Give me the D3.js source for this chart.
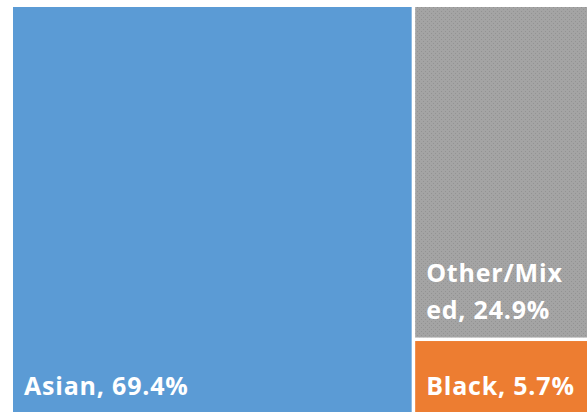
<!DOCTYPE html>
<html>
<head>
<meta charset="utf-8">
<script src="https://cdn.jsdelivr.net/npm/d3@7"></script>
<style>
  html, body { margin: 0; padding: 0; background: #ffffff; }
  svg { display: block; }
</style>
</head>
<body>
<div id="chart"></div>
<script>
const categories = ["Asian", "Other/Mixed", "Black"];
const values = [69.4, 24.9, 5.7];
const colors = ["#5b9bd5", "url(#grayPattern)", "#ed7d31"];

const W = 587, H = 412;
const svg = d3.select("#chart").append("svg")
  .attr("width", W).attr("height", H);

const defs = svg.append("defs");
const pat = defs.append("pattern")
  .attr("id", "grayPattern")
  .attr("patternUnits", "userSpaceOnUse")
  .attr("width", 4).attr("height", 4);
pat.append("rect").attr("width", 4).attr("height", 4).attr("fill", "#a4a4a4");
pat.append("rect").attr("x", 0).attr("y", 0).attr("width", 1).attr("height", 1).attr("fill", "#939393");
pat.append("rect").attr("x", 2).attr("y", 2).attr("width", 1).attr("height", 1).attr("fill", "#939393");

const root = d3.hierarchy({
  children: categories.map((c, i) => ({ name: c, value: values[i], color: colors[i] }))
}).sum(d => d.value || 0);

const ox = 13, oy = 7;
d3.treemap()
  .tile(d3.treemapSquarify)
  .size([576, 407])
  .paddingInner(3.5)
  .round(false)(root);

const plot = svg.append("g").attr("transform", `translate(${ox},${oy})`);

const cells = plot.selectAll("g.cell")
  .data(root.leaves())
  .join("g").attr("class", "cell");

cells.append("rect")
  .attr("x", d => d.x0)
  .attr("y", d => d.y0)
  .attr("width", d => d.x1 - d.x0)
  .attr("height", d => d.y1 - d.y0)
  .attr("fill", d => d.data.color);

const fontSize = 25, lineH = 37, padX = 11, padB = 19;

cells.each(function(d) {
  const g = d3.select(this);
  const label = d.data.name + ", " + d3.format(".1f")(d.data.value) + "%";
  const maxW = (d.x1 - d.x0) - 2 * padX;
  const t = g.append("text")
    .attr("font-family", "'Open Sans', sans-serif")
    .attr("font-weight", "bold")
    .attr("font-size", fontSize)
    .attr("letter-spacing", 0.8)
    .attr("fill", "#ffffff");
  const lines = [];
  let cur = "";
  const probe = t.append("tspan");
  for (const ch of label) {
    probe.text(cur + ch);
    if (probe.node().getComputedTextLength() > maxW && cur.length) {
      lines.push(cur);
      cur = ch;
    } else {
      cur += ch;
    }
  }
  lines.push(cur);
  probe.remove();
  const n = lines.length;
  lines.forEach((ln, i) => {
    t.append("tspan")
      .attr("x", d.x0 + padX)
      .attr("y", d.y1 - padB - (n - 1 - i) * lineH)
      .text(ln.trimStart());
  });
});
</script>
</body>
</html>
